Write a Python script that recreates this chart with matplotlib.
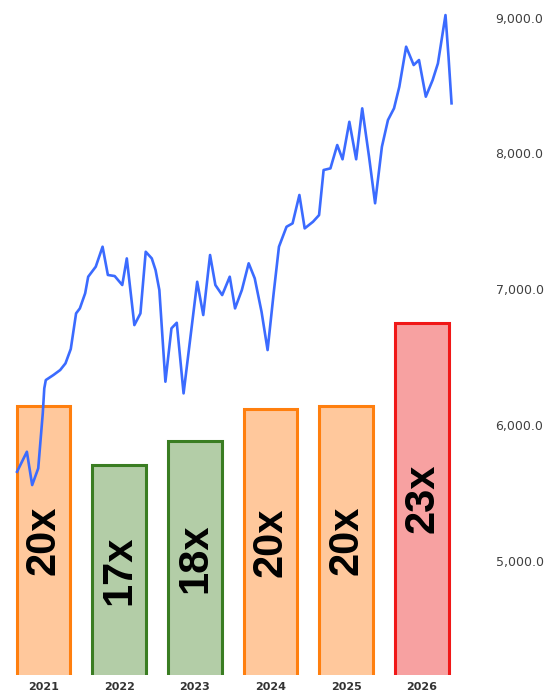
import matplotlib.pyplot as plt
import numpy as np

# P/E multiples per year (bar heights) and their labels
years = [2021, 2022, 2023, 2024, 2025, 2026]
pe_values = [20.0, 17.8, 18.7, 19.9, 20.0, 23.1]
pe_labels = ["20x", "17x", "18x", "20x", "20x", "23x"]
bar_fill = ["#FFC89C", "#B3CDA7", "#B3CDA7", "#FFC89C", "#FFC89C", "#F7A1A1"]
bar_edge = ["#FF7F0E", "#3A7D22", "#3A7D22", "#FF7F0E", "#FF7F0E", "#F01818"]

# index level over time (decimal years)
index_t = [2020.65, 2020.78, 2020.85, 2020.93, 2020.99, 2021.01, 2021.03, 2021.13,
           2021.22, 2021.29, 2021.36, 2021.43, 2021.48, 2021.55, 2021.59, 2021.69,
           2021.78, 2021.85, 2021.94, 2022.04, 2022.10, 2022.20, 2022.28, 2022.35,
           2022.43, 2022.48, 2022.53, 2022.61, 2022.69, 2022.76, 2022.85, 2023.03,
           2023.11, 2023.20, 2023.27, 2023.36, 2023.46, 2023.53, 2023.62, 2023.71,
           2023.79, 2023.88, 2023.96, 2024.04, 2024.11, 2024.21, 2024.29, 2024.38,
           2024.45, 2024.56, 2024.64, 2024.70, 2024.79, 2024.88, 2024.95, 2025.04,
           2025.13, 2025.21, 2025.30, 2025.38, 2025.47, 2025.55, 2025.63, 2025.70,
           2025.79, 2025.89, 2025.96, 2026.05, 2026.14, 2026.21, 2026.31, 2026.35,
           2026.39]
index_v = [5656, 5803, 5558, 5681, 6086, 6270, 6331, 6368,
           6405, 6454, 6560, 6822, 6859, 6970, 7092, 7166,
           7313, 7105, 7097, 7031, 7227, 6736, 6822, 7276,
           7227, 7141, 6994, 6319, 6712, 6753, 6233, 7055,
           6810, 7252, 7031, 6957, 7092, 6859, 6994, 7191,
           7080, 6834, 6552, 6970, 7313, 7460, 7485, 7694,
           7448, 7497, 7546, 7878, 7890, 8062, 7957, 8233,
           7957, 8332, 7976, 7633, 8049, 8246, 8332, 8491,
           8786, 8651, 8688, 8418, 8540, 8663, 9019, 8712,
           8369]

yticks = [5000, 6000, 7000, 8000, 9000]

fig = plt.figure(figsize=(5.53, 7.00), dpi=100)
ax = fig.add_axes([0, 25 / 700, 490 / 553, 675 / 700])

ax.bar(years, pe_values, width=0.71, bottom=0, color=bar_fill,
       edgecolor=bar_edge, linewidth=2.2, zorder=2)
ax.set_ylim(10, 35.09)
ax.set_xlim(2020.425, 2026.898)

for x, v, lab in zip(years, pe_values, pe_labels):
    ax.text(x, (10 + v) / 2, lab, rotation=90, ha="center", va="center",
            fontsize=30, fontweight="bold", family="Liberation Sans",
            color="black", zorder=3)

ax.set_xticks(years)
ax.set_xticklabels([str(y) for y in years], fontsize=8, fontweight="bold",
                   color="#333333")
ax.tick_params(axis="x", length=0, pad=5)
ax.set_yticks([])
for s in ax.spines.values():
    s.set_visible(False)

ax2 = ax.twinx()
ax2.plot(index_t, index_v, color="#3B6BFF", linewidth=1.9, zorder=4)
ax2.set_ylim(4159, 9130)
ax2.set_yticks(yticks)
ax2.set_yticklabels([f"{v:,.1f}" for v in yticks], fontsize=9, color="#404040")
ax2.tick_params(axis="y", length=0, pad=4)
for s in ax2.spines.values():
    s.set_visible(False)

fig.savefig("out.png", dpi=100)
